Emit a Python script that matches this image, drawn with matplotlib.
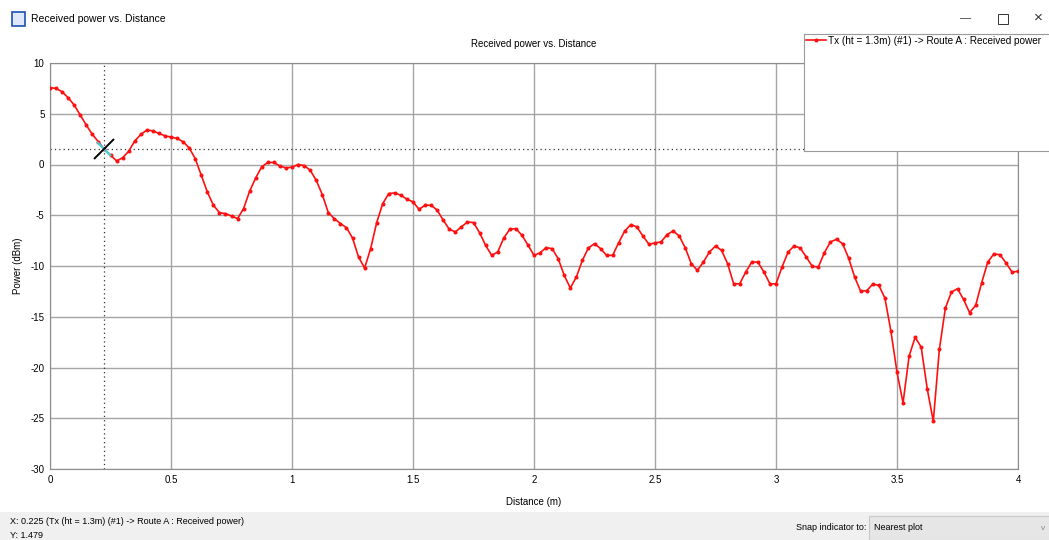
import numpy as np
import matplotlib.pyplot as plt
from matplotlib.markers import MarkerStyle
from matplotlib.transforms import Affine2D
from matplotlib.patches import Rectangle

plt.rcParams['font.family'] = ['Liberation Sans', 'DejaVu Sans']
plt.rcParams['axes.unicode_minus'] = False

# received power samples, one every 0.025 m from 0 to 4 m
step = 0.025
power = [
    7.57, 7.50, 7.17, 6.58, 5.86, 4.87, 3.88, 2.96, 2.24, 1.48,
    0.92, 0.36, 0.66, 1.30, 2.30, 2.96, 3.39, 3.32, 3.06, 2.83,
    2.70, 2.57, 2.24, 1.64, 0.59, -1.05, -2.70, -4.00, -4.74, -4.84,
    -5.07, -5.33, -4.34, -2.63, -1.32, -0.23, 0.20, 0.20, -0.15, -0.33,
    -0.26, 0.00, -0.10, -0.56, -1.55, -2.96, -4.74, -5.33, -5.82, -6.22,
    -7.24, -9.11, -10.20, -8.29, -5.72, -3.85, -2.86, -2.80, -3.03, -3.42,
    -3.68, -4.41, -4.01, -4.01, -4.50, -5.49, -6.38, -6.64, -6.15, -5.66,
    -5.72, -6.71, -7.96, -8.95, -8.62, -7.24, -6.38, -6.32, -6.97, -7.93,
    -8.95, -8.70, -8.19, -8.29, -9.28, -10.92, -12.17, -11.09, -9.44, -8.22,
    -7.80, -8.29, -8.95, -8.95, -7.70, -6.55, -5.92, -6.15, -7.04, -7.86,
    -7.73, -7.63, -6.90, -6.55, -7.04, -8.22, -9.77, -10.43, -9.61, -8.62,
    -8.03, -8.45, -9.77, -11.75, -11.75, -10.59, -9.61, -9.61, -10.59, -11.76,
    -11.76, -10.10, -8.62, -8.03, -8.22, -9.11, -10.03, -10.10, -8.68, -7.63,
    -7.37, -7.80, -9.21, -11.09, -12.50, -12.43, -11.78, -11.91, -13.16, -16.45,
    -20.46, -23.49, -18.88, -17.01, -18.00, -22.11, -25.30, -18.22, -14.14, -12.57,
    -12.24, -13.29, -14.60, -13.88, -11.64, -9.61, -8.82, -8.88, -9.67, -10.59,
    -10.53,
]
distance = np.arange(len(power)) * step

series_label = 'Tx (ht = 1.3m) (#1) -> Route A : Received power'
cursor_x = 0.225
cursor_y = 1.479
x_ticks = [0, 0.5, 1, 1.5, 2, 2.5, 3, 3.5, 4]
x_tick_labels = ['0', '0.5', '1', '1.5', '2', '2.5', '3', '3.5', '4']
y_ticks = [-30, -25, -20, -15, -10, -5, 0, 5, 10]

W, H = 1049, 540
fig = plt.figure(figsize=(W / 100, H / 100), dpi=100)
fig.patch.set_facecolor('white')

def fx(px):
    return px / W

def fy(py):
    return 1 - py / H

ax = fig.add_axes([fx(50), fy(469), 968 / W, 406 / H])
line, = ax.plot(distance, power, color='#ff1010', lw=1.2, marker='o', ms=1.9,
                label=series_label, zorder=3)
ax.set_xlim(0, 4)
ax.set_ylim(-30, 10)
ax.set_xticks(x_ticks)
ax.set_xticklabels(x_tick_labels)
ax.set_yticks(y_ticks)
ax.grid(color='#a4a4a4', lw=1)
ax.tick_params(length=0, labelsize=7, pad=4)
for s in ax.spines.values():
    s.set_color('#8c8c8c')

# cursor crosshair
dots = (0, (1, 2.5))
ax.axvline(cursor_x, color='#333333', ls=dots, lw=0.9, zorder=2)
ax.axhline(cursor_y, color='#333333', ls=dots, lw=0.9, zorder=2)
ax.plot(cursor_x, cursor_y, marker=MarkerStyle('|', transform=Affine2D().rotate_deg(45)),
        ms=15, mew=1.6, color='#40d0d8', zorder=4)
ax.plot(cursor_x, cursor_y, marker=MarkerStyle('|', transform=Affine2D().rotate_deg(-45)),
        ms=20, mew=1.4, color='black', zorder=5)

# labels
fig.text(fx(534), fy(44), 'Received power vs. Distance', fontsize=7, ha='center', va='center')
fig.text(fx(534), fy(502), 'Distance (m)', fontsize=7, ha='center', va='center')
fig.text(fx(18), fy(266), 'Power (dBm)', fontsize=7, ha='center', va='center', rotation=90)

# legend box
box = fig.add_axes([fx(804), fy(151), 260 / W, 117 / H])
box.set_xticks([])
box.set_yticks([])
for s in box.spines.values():
    s.set_color('#9a9a9a')
box.legend([line], [series_label], loc='upper left', frameon=False, fontsize=7.2,
           handlelength=2.0, handletextpad=0.3, borderaxespad=0.05, borderpad=0.1)

# title bar
fig.patches.append(Rectangle((fx(12), fy(26)), 13 / W, 14 / H, transform=fig.transFigure,
                             facecolor='#dfe8f8', edgecolor='#2050b0', lw=1.2))
fig.text(fx(31), fy(19), 'Received power vs. Distance', fontsize=7.5, ha='left', va='center')
fig.text(fx(966), fy(18), '\u2014', fontsize=8, ha='center', va='center', color='#333333')
fig.patches.append(Rectangle((fx(998), fy(24)), 10 / W, 10 / H, transform=fig.transFigure,
                             facecolor='none', edgecolor='#333333', lw=0.7))
fig.text(fx(1038), fy(18), '\u00d7', fontsize=11, ha='center', va='center', color='#333333')

# status bar
fig.patches.append(Rectangle((0, 0), 1, 28 / H, transform=fig.transFigure,
                             facecolor='#f0f0f0', edgecolor='none', zorder=0))
fig.text(fx(10), fy(521), 'X: 0.225 (Tx (ht = 1.3m) (#1) -> Route A : Received power)',
         fontsize=6.5, ha='left', va='center')
fig.text(fx(10), fy(535), 'Y: 1.479', fontsize=6.5, ha='left', va='center')
fig.text(fx(866), fy(528), 'Snap indicator to:', fontsize=6.5, ha='right', va='center')
fig.patches.append(Rectangle((fx(869), 0), 185 / W, 24 / H, transform=fig.transFigure,
                             facecolor='#e6e6e6', edgecolor='#c8c8c8', lw=0.8, zorder=0))
fig.text(fx(874), fy(528), 'Nearest plot', fontsize=6.5, ha='left', va='center')
fig.text(fx(1043), fy(529), 'v', fontsize=6, ha='center', va='center', color='#888888')

fig.savefig('out.png', dpi=100)
